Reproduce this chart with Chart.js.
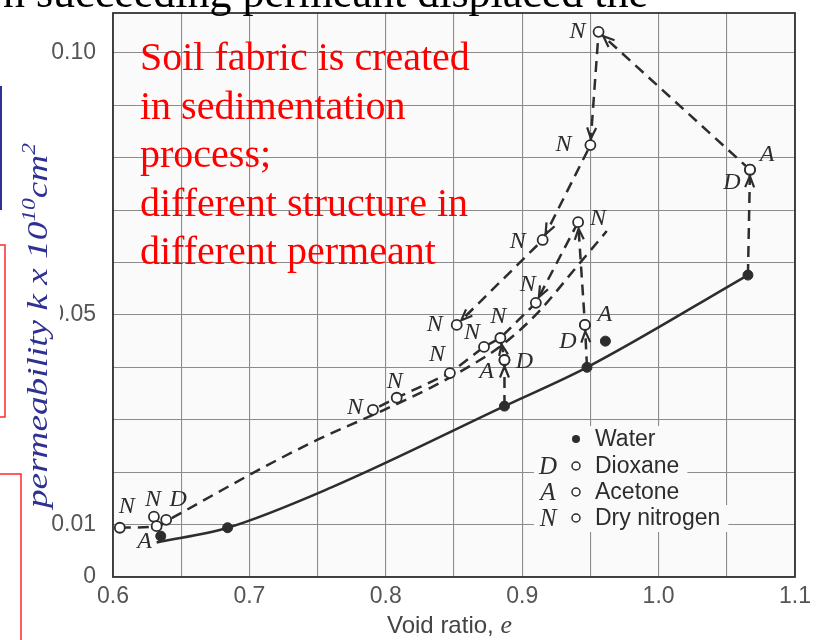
<!DOCTYPE html>
<html>
<head>
<meta charset="utf-8">
<script src="https://cdn.jsdelivr.net/npm/chart.js@4.4.1/dist/chart.umd.min.js"></script>
<style>
  html, body { margin: 0; padding: 0; background: #fff; }
  canvas { display: block; }
</style>
</head>
<body>
<canvas id="chart" width="824" height="640"></canvas>
<script>
// measured points, void ratio e vs permeability k
const waterE = [0.635, 0.684, 0.887, 0.9475, 0.961, 1.0655];
const waterK = [0.0078, 0.0094, 0.0326, 0.0400, 0.0450, 0.0576];
const waterCurveE = [0.632, 0.684, 0.761, 0.887, 0.9475, 1.0655];
const waterCurveK = [0.0066, 0.0094, 0.0172, 0.0326, 0.0400, 0.0576];

const dioxaneE = [0.639, 0.887, 0.946, 1.067];
const dioxaneK = [0.0109, 0.0414, 0.0481, 0.0777];
const acetoneE = [0.632, 0.887, 0.946, 1.067];
const acetoneK = [0.0097, 0.0414, 0.0481, 0.0777];
const nitrogenE = [0.605, 0.630, 0.7906, 0.808, 0.847, 0.872, 0.884, 0.852, 0.910, 0.915, 0.941, 0.950, 0.956];
const nitrogenK = [0.0094, 0.0115, 0.0319, 0.0342, 0.0389, 0.0439, 0.0456, 0.0481, 0.0523, 0.0643, 0.0677, 0.0824, 0.1040];

// dashed paths between successive permeants
const lowerPathE = [0.605, 0.632, 0.645, 0.680, 0.713, 0.750, 0.793, 0.832, 0.860, 0.884, 0.911, 0.940, 0.962];
const lowerPathK = [0.0094, 0.0097, 0.0115, 0.0166, 0.0213, 0.0262, 0.0312, 0.0360, 0.0400, 0.0440, 0.0503, 0.0592, 0.0660];
const midPathE = [0.941, 0.910, 0.884, 0.872, 0.847, 0.808, 0.7906];
const midPathK = [0.0677, 0.0523, 0.0456, 0.0439, 0.0389, 0.0342, 0.0319];
const topPathE = [1.067, 0.956, 0.950, 0.915, 0.852];
const topPathK = [0.0777, 0.1040, 0.0824, 0.0643, 0.0481];
const rise1E = [1.0655, 1.067];
const rise1K = [0.0576, 0.0777];
const rise2E = [0.9475, 0.946, 0.941];
const rise2K = [0.0400, 0.0481, 0.0677];
const rise3E = [0.887, 0.887, 0.884];
const rise3K = [0.0326, 0.0414, 0.0456];

const xTicks = [0.6, 0.65, 0.7, 0.75, 0.8, 0.85, 0.9, 0.95, 1.0, 1.05, 1.1];
const xTickLabels = ['0.6', '', '0.7', '', '0.8', '', '0.9', '', '1.0', '', '1.1'];
const yTicks = [0, 0.01, 0.02, 0.03, 0.04, 0.05, 0.06, 0.07, 0.08, 0.09, 0.10];
const yTickLabels = ['0', '0.01', '', '', '', '0.05', '', '', '', '', '0.10'];

const legendNames = ['Water', 'Dioxane', 'Acetone', 'Dry nitrogen'];
const legendLetters = ['', 'D', 'A', 'N'];
const noteLines = ['Soil fabric is created', 'in sedimentation', 'process;', 'different structure in', 'different permeant'];
const topLine = 'n succeeding permeant displaced the';

// label placement (pixels from the point)
const nitrogenOffsets = [[7, -21], [-1, -17], [-18, -2], [-2, -16], [-13, -18], [-12, -14], [-2, -21], [-22, 0], [-8, -18], [-25, 2], [20, -3], [-27, 0], [-21, 0]];
const dioxaneOffsets = [[12, -20], [20, 2], [-17, 17], [-18, 13]];
const acetoneOffsets = [[-12, 16], [-18, 12], [20, -10], [17, -15]];

const INK = '#2d2d2d';
const zip = (xs, ys) => xs.map((x, i) => ({ x, y: ys[i] }));

const dashed = (xs, ys, extra) => ({
  data: zip(xs, ys), showLine: true, borderColor: INK, borderWidth: 2.5,
  borderDash: [11, 7], pointRadius: 0, order: 3, ...extra
});

const openPts = (xs, ys, letter, offsets) => ({
  data: zip(xs, ys), showLine: false, pointRadius: 5, pointBorderWidth: 1.8,
  pointBorderColor: INK, pointBackgroundColor: '#fff', order: 1, letter, offsets
});

const arrowPlugin = {
  id: 'arrows',
  afterDatasetsDraw(chart) {
    const ctx = chart.ctx;
    ctx.save();
    ctx.strokeStyle = INK;
    ctx.lineWidth = 2.2;
    chart.data.datasets.forEach((ds, i) => {
      if (!ds.arrowAt) return;
      const pts = chart.getDatasetMeta(i).data;
      ds.arrowAt.forEach((j) => {
        const a = pts[j - 1], b = pts[j];
        const dx = b.x - a.x, dy = b.y - a.y, len = Math.hypot(dx, dy);
        const ux = dx / len, uy = dy / len;
        const tx = b.x - ux * 6.5, ty = b.y - uy * 6.5;
        ctx.beginPath();
        ctx.moveTo(tx - ux * 11 - uy * 4.5, ty - uy * 11 + ux * 4.5);
        ctx.lineTo(tx, ty);
        ctx.lineTo(tx - ux * 11 + uy * 4.5, ty - uy * 11 - ux * 4.5);
        ctx.stroke();
      });
    });
    ctx.restore();
  }
};

const letterPlugin = {
  id: 'letters',
  afterDatasetsDraw(chart) {
    const ctx = chart.ctx;
    ctx.save();
    ctx.fillStyle = INK;
    ctx.font = 'italic 24px "Liberation Serif"';
    ctx.textAlign = 'center';
    ctx.textBaseline = 'middle';
    chart.data.datasets.forEach((ds, i) => {
      if (!ds.letter) return;
      chart.getDatasetMeta(i).data.forEach((p, j) => {
        const [dx, dy] = ds.offsets[j];
        ctx.fillText(ds.letter, p.x + dx, p.y + dy);
      });
    });
    ctx.restore();
  }
};

const framePlugin = {
  id: 'frame',
  beforeDraw(chart) {
    const { ctx, chartArea: a } = chart;
    ctx.save();
    ctx.fillStyle = '#fff';
    ctx.fillRect(0, 0, chart.width, chart.height);
    ctx.fillStyle = '#fafafa';
    ctx.fillRect(a.left, a.top, a.right - a.left, a.bottom - a.top);
    ctx.restore();
  },
  beforeDatasetsDraw(chart) {
    const { ctx, chartArea: a } = chart;
    ctx.save();
    ctx.strokeStyle = '#333';
    ctx.lineWidth = 1.8;
    ctx.strokeRect(a.left, a.top, a.right - a.left, a.bottom - a.top);
    ctx.restore();
  }
};

const legendPlugin = {
  id: 'legendBox',
  afterDatasetsDraw(chart) {
    const ctx = chart.ctx;
    const a = chart.chartArea;
    const mx = a.left + 463, tx = a.left + 482, lx = a.left + 435;
    const rows = [439, 466, 492, 518];
    ctx.save();
    ctx.font = '23px "Liberation Sans"';
    rows.forEach((y, i) => {
      const w = ctx.measureText(legendNames[i]).width;
      ctx.fillStyle = '#fafafa';
      ctx.fillRect(lx - 14, y - 13, tx + w + 8 - (lx - 14), 27);
    });
    rows.forEach((y, i) => {
      ctx.beginPath();
      ctx.arc(mx, y, 4, 0, Math.PI * 2);
      if (i === 0) { ctx.fillStyle = INK; ctx.fill(); }
      else { ctx.fillStyle = '#fff'; ctx.fill(); ctx.strokeStyle = INK; ctx.lineWidth = 1.5; ctx.stroke(); }
      ctx.fillStyle = INK;
      ctx.textBaseline = 'middle';
      ctx.textAlign = 'left';
      ctx.font = '23px "Liberation Sans"';
      ctx.fillText(legendNames[i], tx, y + 1);
      if (legendLetters[i]) {
        ctx.textAlign = 'center';
        ctx.font = 'italic 25px "Liberation Serif"';
        ctx.fillText(legendLetters[i], lx, y + 1);
      }
    });
    ctx.restore();
  }
};

const overlayPlugin = {
  id: 'overlay',
  afterDraw(chart) {
    const ctx = chart.ctx;
    ctx.save();
    // x title
    ctx.fillStyle = '#444';
    ctx.textBaseline = 'alphabetic';
    ctx.font = '24px "Liberation Sans"';
    const xt = 'Void ratio, ';
    ctx.fillText(xt, 387, 633);
    const xw = ctx.measureText(xt).width;
    ctx.font = 'italic 26px "Liberation Serif"';
    ctx.fillText('e', 387 + xw, 633);

    // slide fragments
    ctx.fillStyle = '#000';
    ctx.font = '44px "Liberation Serif"';
    ctx.fillText(topLine, 3, 7);

    // red note
    ctx.fillStyle = '#ff0000';
    ctx.font = '40px "Liberation Serif"';
    noteLines.forEach((t, i) => ctx.fillText(t, 140, 70 + i * 48.5));

    // white backing of the y title, then the slide box edges
    ctx.fillStyle = '#fff';
    ctx.fillRect(14, 128, 46, 382);
    ctx.strokeStyle = '#2e3192';
    ctx.lineWidth = 2;
    ctx.beginPath(); ctx.moveTo(1, 86); ctx.lineTo(1, 210); ctx.stroke();
    ctx.strokeStyle = '#ff2a2a';
    ctx.lineWidth = 1.5;
    ctx.beginPath(); ctx.moveTo(0, 245); ctx.lineTo(5, 245); ctx.lineTo(5, 417); ctx.lineTo(0, 417); ctx.stroke();
    ctx.beginPath(); ctx.moveTo(0, 474); ctx.lineTo(21, 474); ctx.lineTo(21, 640); ctx.stroke();

    // y title
    ctx.translate(46.5, 508);
    ctx.rotate(-Math.PI / 2);
    const parts = [['permeability k x 10', 30, 0], ['10', 19, -12], ['cm', 30, 0], ['2', 19, -12]];
    let total = 0;
    parts.forEach(([t, s]) => { ctx.font = `italic ${s}px "Liberation Serif"`; total += ctx.measureText(t).width; });
    ctx.scale(365 / total, 1);
    ctx.fillStyle = '#2e3192';
    let x = 0;
    parts.forEach(([t, s, dy]) => {
      ctx.font = `italic ${s}px "Liberation Serif"`;
      ctx.fillText(t, x, dy);
      x += ctx.measureText(t).width;
    });
    ctx.restore();
  }
};

new Chart(document.getElementById('chart'), {
  type: 'scatter',
  data: {
    datasets: [
      dashed(lowerPathE, lowerPathK, { cubicInterpolationMode: 'monotone' }),
      dashed(midPathE, midPathK, { arrowAt: [1] }),
      dashed(topPathE, topPathK, { arrowAt: [1, 2, 3, 4] }),
      dashed(rise1E, rise1K, { arrowAt: [1] }),
      dashed(rise2E, rise2K, { arrowAt: [1, 2] }),
      dashed(rise3E, rise3K, { arrowAt: [1, 2] }),
      {
        data: zip(waterCurveE, waterCurveK), showLine: true, borderColor: INK, borderWidth: 2.5,
        pointRadius: 0, cubicInterpolationMode: 'monotone', order: 2
      },
      {
        data: zip(waterE, waterK), showLine: false, pointRadius: 5,
        pointBackgroundColor: INK, pointBorderColor: INK, order: 1
      },
      openPts(dioxaneE, dioxaneK, 'D', dioxaneOffsets),
      openPts(acetoneE, acetoneK, 'A', acetoneOffsets),
      openPts(nitrogenE, nitrogenK, 'N', nitrogenOffsets)
    ]
  },
  options: {
    responsive: false,
    animation: false,
    layout: { padding: { left: 0, right: 29, top: 13, bottom: 0 } },
    plugins: { legend: { display: false }, tooltip: { enabled: false } },
    scales: {
      x: {
        type: 'linear', min: 0.6, max: 1.1,
        afterBuildTicks: (s) => { s.ticks = xTicks.map((v) => ({ value: v })); },
        afterFit: (s) => { s.height = 63; s.paddingLeft = 0; s.paddingRight = 0; },
        ticks: {
          autoSkip: false, maxRotation: 0, padding: 6, color: '#555',
          font: { family: '"Liberation Sans"', size: 23 },
          callback: (v, i) => xTickLabels[i]
        },
        grid: { color: '#8c8c8c', lineWidth: 1.1, drawTicks: false },
        border: { display: false }
      },
      y: {
        type: 'linear', min: 0, max: 0.1076,
        afterBuildTicks: (s) => { s.ticks = yTicks.map((v) => ({ value: v })); },
        afterFit: (s) => { s.width = 113; s.paddingTop = 0; s.paddingBottom = 0; },
        ticks: {
          autoSkip: false, padding: 17, color: '#555',
          font: { family: '"Liberation Sans"', size: 23 },
          callback: (v, i) => yTickLabels[i]
        },
        grid: { color: '#8c8c8c', lineWidth: 1.1, drawTicks: false },
        border: { display: false }
      }
    }
  },
  plugins: [framePlugin, arrowPlugin, letterPlugin, legendPlugin, overlayPlugin]
});
</script>
</body>
</html>
